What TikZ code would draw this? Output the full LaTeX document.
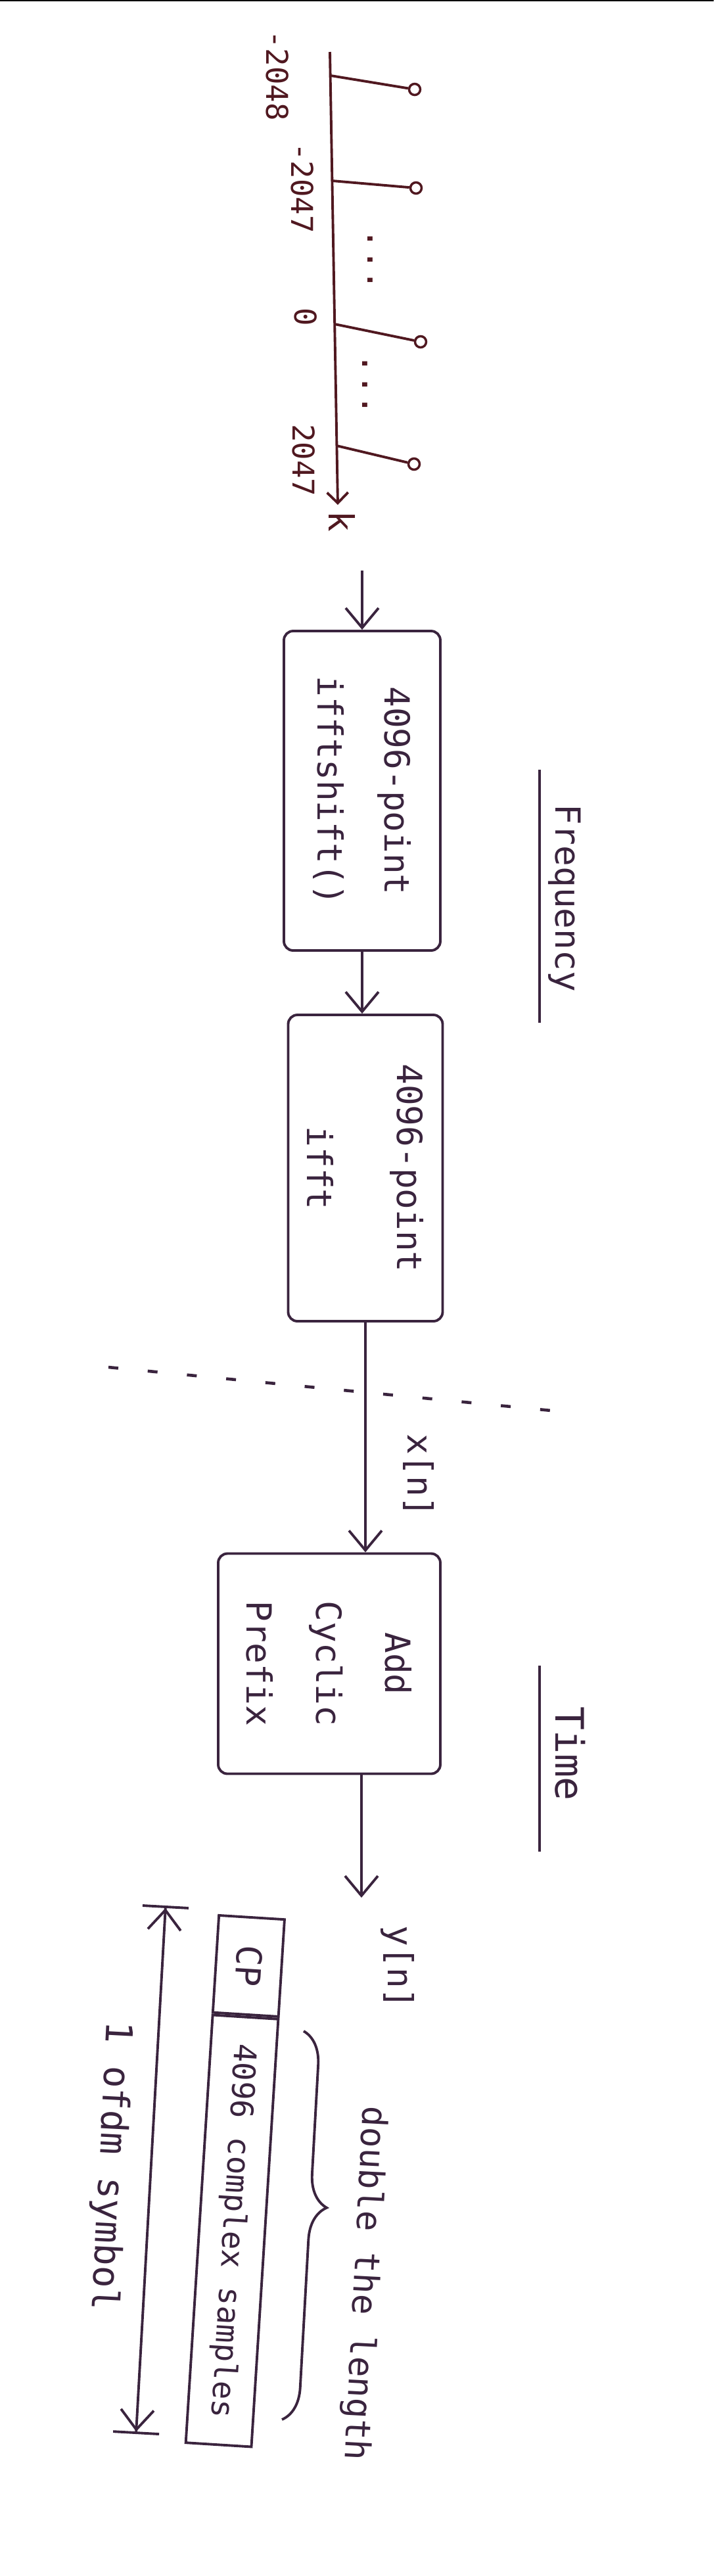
\documentclass[tikz,border=0pt]{standalone}
\usepackage{fontspec}
\setmainfont{DejaVu Sans Mono}
\usepackage{tikz}
\usetikzlibrary{arrows.meta,decorations.pathreplacing}
\definecolor{ink}{RGB}{58,36,62}
\definecolor{redink}{RGB}{80,24,32}

\begin{document}
\begin{tikzpicture}[color=ink, line width=1.1pt,
  >={Straight Barb[length=3mm,width=5mm]},
  blk/.style={draw, rotate=-90, rounded corners=4pt, align=center, inner sep=0pt},
  lbl/.style={rotate=-90, inner sep=1pt, font=\fontsize{15}{18}\selectfont},
  dom/.style={rotate=-90, inner sep=0pt, text depth=0.22cm, anchor=base},
  stem/.style={circle, draw, inner sep=0pt, minimum size=0.17cm, line width=1pt},
  seg/.style={draw, rotate=-93.6, minimum height=1cm, inner sep=0pt}]

\useasboundingbox (0,0) rectangle (10.9,-39.19);
\draw[black, line width=0.7pt] (0,-0.01) -- (10.86,-0.01);

%%% spectrum
\coordinate (kstart) at (5.02,-0.79);
\coordinate (kend) at (5.14,-7.68);
\draw[redink, -{Straight Barb[length=1.6mm,width=3.2mm]}] (kstart) -- (kend);
\node[lbl, redink] (k) at (5.21,-7.93) {k};

\foreach \n/\xa/\ya/\xc/\yc in {1/5.03/1.15/6.31/1.36, 2/5.05/2.75/6.33/2.86, 3/5.09/4.93/6.40/5.20, 4/5.12/6.78/6.30/7.06}
{
  \coordinate (t\n) at (\xa,-\ya);
  \node[stem, redink] (c\n) at (\xc,-\yc) {};
  \draw[redink] (t\n) -- (c\n);
}

\node[lbl, redink, font=\fontsize{13}{15}\selectfont] (v1) at (4.22,-1.15) {-2048};
\node[lbl, redink, font=\fontsize{13}{15}\selectfont] (v2) at (4.60,-2.86) {-2047};
\node[lbl, redink, font=\fontsize{13}{15}\selectfont] (v3) at (4.65,-4.82) {0};
\node[lbl, redink, font=\fontsize{13}{15}\selectfont] (v4) at (4.62,-7.00) {2047};
\node[lbl, redink] (d1) at (5.63,-3.95) {...};
\node[lbl, redink] (d2) at (5.55,-5.85) {...};

%%% blocks
\node[blk, minimum width=4.86cm, minimum height=2.38cm, font=\fontsize{15}{29}\selectfont] (shift) at (5.51,-12.03) {4096-point\\ifftshift()};
\node[blk, minimum width=4.66cm, minimum height=2.35cm, font=\fontsize{15}{39}\selectfont] (ifft) at (5.56,-17.77) {4096-point\\ifft};
\node[blk, minimum width=3.35cm, minimum height=3.38cm, font=\fontsize{15}{30}\selectfont] (addcp) at (5.01,-25.31) {Add\\Cyclic\\Prefix};

\coordinate (in) at (5.51,-8.68);
\draw[->] (in) -- (shift.west);
\draw[->] (shift.east) -- (shift.east |- ifft.west);
\draw[->] (ifft.east) -- (ifft.east |- addcp.west);
\coordinate (yout) at (5.50,-28.87);
\draw[->] (yout |- addcp.east) -- (yout);

\node[lbl] (xn) at (6.37,-22.45) {x[n]};
\node[lbl] (yn) at (6.05,-29.93) {y[n]};

%%% frequency / time
\draw[line width=1.3pt, dash pattern=on 1.5mm off 4.5mm] (1.65,-20.8) -- (8.8,-21.5);

\node[dom, font=\fontsize{15}{18}\selectfont] (freq) at (8.45,-13.66) {Frequency};
\draw[shorten <=-0.5cm, shorten >=-0.45cm] (freq.south west) -- (freq.south east);
\node[dom, font=\fontsize{17}{20}\selectfont] (time) at (8.45,-26.68) {Time};
\draw[shorten <=-0.6cm, shorten >=-0.75cm] (time.south west) -- (time.south east);

%%% ofdm symbol
\node[seg, minimum width=1.48cm, font=\fontsize{15}{18}\selectfont] (cp) at (3.784,-29.909) {CP};
\node[seg, minimum width=6.52cm, anchor=west, font=\fontsize{13.5}{15}\selectfont] (samples) at (cp.east) {4096 complex samples};

\coordinate (brtop) at (4.62,-30.90);
\coordinate (brbot) at (4.29,-36.81);
\draw[decorate, decoration={brace, amplitude=0.5cm, aspect=0.45}] (brtop) -- (brbot);
\node[rotate=-93, font=\fontsize{15}{18}\selectfont] (dbl) at (5.53,-34.74) {double the length};

\coordinate (symtop) at (2.52,-28.99);
\coordinate (symbot) at (2.07,-37.03);
\draw[{Bar[width=7mm]Straight Barb[length=3mm,width=5mm]}-{Straight Barb[length=3mm,width=5mm]Bar[width=7mm]}] (symtop) -- (symbot);
\node[rotate=-93, font=\fontsize{16}{18}\selectfont] (sym) at (1.67,-32.95) {1 ofdm symbol};
\end{tikzpicture}
\end{document}
